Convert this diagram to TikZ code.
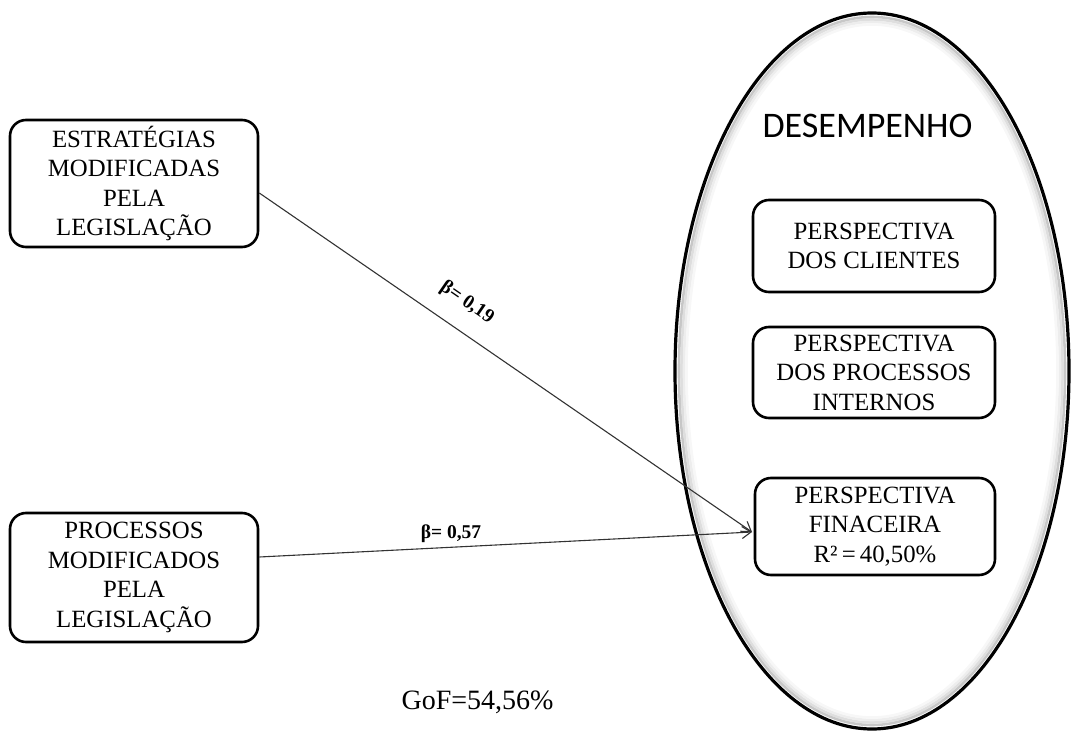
\documentclass[tikz,border=0pt]{standalone}
\usepackage{fontspec}
\setmainfont{Liberation Serif}
\newfontfamily\titlefont{Carlito}
\usetikzlibrary{arrows.meta,shapes.geometric}

\begin{document}
\begin{tikzpicture}[x=1pt,y=-1pt,
  box/.style={draw, line width=2.6pt, rounded corners=16pt, align=center,
    inner sep=0pt, fill=white, font=\fontsize{24.8}{29.5}\selectfont},
  link/.style={draw=black!80, line width=1.1pt,
    -{Straight Barb[length=9pt,width=12pt]}},
  coef/.style={font=\fontsize{19.5}{21}\selectfont\bfseries, inner sep=0pt}]
\useasboundingbox (0,0) rectangle (1071,733);

% soft inner shade along the construct outline
\foreach \i/\c in {1/22,2/13,3/7,4/3}
  \draw[black!\c, line width=2.6pt] (872,371)
    ellipse [x radius={197-1.5-2.5*\i}, y radius={358-1.5-2.5*\i}];
\node[ellipse, draw, line width=3.2pt, minimum width=394pt,
  minimum height=716pt, inner sep=0pt] (perf) at (872,371) {};
\node[anchor=base, font=\titlefont\fontsize{36}{40}\selectfont] (title)
  at (867.5,138) {DESEMPENHO};

% exogenous constructs
\node[box, minimum width=248pt, minimum height=127pt] (est) at (134,183.5)
  {ESTRATÉGIAS\\MODIFICADAS\\PELA\\LEGISLAÇÃO};
\node[box, minimum width=248pt, minimum height=129pt] (pro) at (134,577.5)
  {PROCESSOS\\MODIFICADOS\\PELA\\LEGISLAÇÃO};

% performance perspectives
\node[box, minimum width=242pt, minimum height=92pt] (cli) at (874,246)
  {PERSPECTIVA\\DOS CLIENTES};
\node[box, minimum width=242pt, minimum height=91pt] (pin) at (874,372.5)
  {PERSPECTIVA\\DOS PROCESSOS\\INTERNOS};
\node[box, minimum width=240pt, minimum height=97pt] (fin) at (875,526.5)
  {PERSPECTIVA\\FINACEIRA\\R²\,=\,40,50\%};

% structural paths
\coordinate (hit) at (752,532);
\draw[link] ([yshift=-9.5pt]est.east) -- (hit)
  node[coef, pos=0.39, sloped, above=18pt] (b1) {β= 0,19};
\draw[link] ([yshift=20.5pt]pro.east) -- (hit)
  node[coef, pos=0.389, above=4pt] (b2) {β= 0,57};

\node[anchor=base, font=\fontsize{28}{32}\selectfont] (gof) at (477.5,709)
  {GoF=54,56\%};
\end{tikzpicture}
\end{document}
